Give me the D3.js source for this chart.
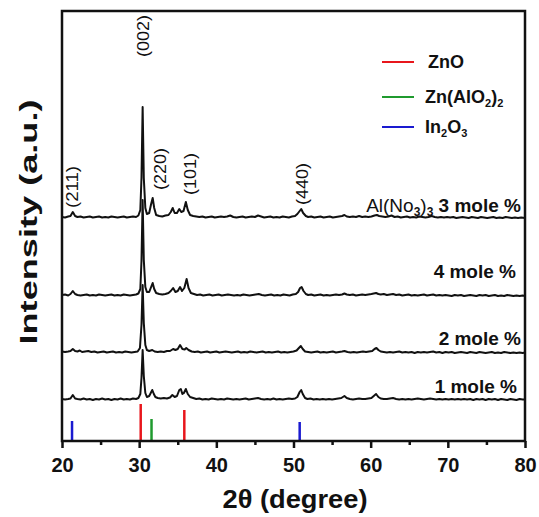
<!DOCTYPE html>
<html><head><meta charset="utf-8">
<script src="https://cdn.jsdelivr.net/npm/d3@7"></script>
<style>body{margin:0;background:#fff} svg{display:block} text{font-family:"Liberation Sans",Arial,sans-serif}</style>
</head><body><svg id="c" width="539" height="517"></svg>
<script>
// ---------- DATA ----------
const categories = ["1 mole %", "2 mole %", "4 mole %", "3 mole %"];
const offsets = [41, 88, 145, 223]; // vertical stacking offset (a.u.)

const series1 = [[20,1],[20.4,0.5],[20.8,1],[21.1,1.5],[21.4,5],[21.7,1.5],[22.0,1],[22.4,0.5],[22.8,1.5],[23.2,0.5],[23.6,1],[24.0,0],[24.4,1],[24.8,0.5],[25.2,1.5],[25.6,0.5],[26.0,1],[26.4,0],[26.8,1],[27.2,0.5],[27.6,1.5],[28.0,0.5],[28.4,1],[28.8,0.5],[29.2,1.5],[29.6,1],[29.9,2],[30.15,6],[30.3,22],[30.45,50],[30.6,24],[30.8,7],[31.0,3],[31.3,4],[31.5,7],[31.7,10],[31.9,6],[32.1,3],[32.4,2],[32.8,1.5],[33.2,2],[33.6,1.5],[34.0,2.5],[34.3,5],[34.6,3],[34.9,4],[35.2,10],[35.4,11],[35.6,6],[35.8,7],[36.05,11],[36.3,6],[36.6,3],[37.0,2],[37.4,1],[37.8,1.5],[38.2,0.5],[38.6,1],[39.0,0.5],[39.4,1.5],[39.8,1],[40.2,0.5],[40.6,1],[41.0,0.5],[41.4,1.5],[41.8,1],[42.2,0.5],[42.6,1],[43.0,0.5],[43.4,1],[43.8,1.5],[44.2,0.5],[44.6,1],[45.0,1.5],[45.4,2],[45.8,1],[46.2,0.5],[46.6,1],[47.0,0.5],[47.4,1.5],[47.8,0.5],[48.2,1],[48.6,0.5],[49.0,1],[49.4,1.5],[49.8,1],[50.2,1.5],[50.5,3],[50.8,8],[51.0,10],[51.2,6],[51.5,2],[51.8,1],[52.2,1.5],[52.6,0.5],[53.0,1],[53.4,0.5],[53.8,1],[54.2,0.5],[54.6,1],[55.0,0.5],[55.4,1],[55.8,1.5],[56.2,2],[56.6,4],[56.9,2],[57.3,1],[57.7,0.5],[58.1,1],[58.5,1.5],[58.9,1],[59.3,1],[59.7,1.5],[60.1,2],[60.4,4],[60.7,6],[61.0,3],[61.3,1.5],[61.7,1],[62.1,1],[62.5,1.5],[62.9,2],[63.3,1],[63.7,0.5],[64.1,1],[64.5,0.5],[64.9,1],[65.3,0.5],[65.7,1],[66.1,1.5],[66.5,1],[66.9,0.5],[67.3,1],[67.7,1.5],[68.1,1],[68.5,0.5],[68.9,1],[69.3,0.5],[69.7,1],[70.1,0.5],[70.5,1],[70.9,0.5],[71.3,1],[71.7,0.5],[72.1,1],[72.5,0.5],[72.9,1],[73.3,0],[73.7,1],[74.1,0.5],[74.5,1],[74.9,0],[75.3,1],[75.7,0.5],[76.1,1],[76.5,0],[76.9,1],[77.3,0.5],[77.7,0],[78.1,1],[78.5,0.5],[78.9,0],[79.3,1],[79.7,0.5],[80,0.5]];

const series2 = [[20,1.5],[20.4,1],[20.8,1.5],[21.1,2],[21.4,4],[21.7,2],[22.0,1.5],[22.3,2.5],[22.6,1],[23.0,1.5],[23.4,2],[23.8,1],[24.2,1.5],[24.6,0.5],[25.0,1],[25.4,1.5],[25.8,0.5],[26.2,1],[26.6,1.5],[27.0,0.5],[27.4,1],[27.8,0.5],[28.2,1.5],[28.6,1],[29.0,0.5],[29.4,1],[29.8,1.5],[30.1,5],[30.3,28],[30.45,68],[30.6,30],[30.8,8],[31.0,3],[31.3,2],[31.7,3],[32.0,1.5],[32.4,1],[32.8,1.5],[33.2,1],[33.6,2],[34.0,2],[34.4,4],[34.7,3],[35.0,4],[35.3,8],[35.6,4],[35.9,3.5],[36.1,5],[36.4,3],[36.8,1.5],[37.2,1],[37.6,1.5],[38.0,0.5],[38.4,1],[38.8,1.5],[39.2,0.5],[39.6,1],[40.0,1.5],[40.4,0.5],[40.8,1],[41.2,1.5],[41.6,1],[42.0,0.5],[42.4,1],[42.8,1.5],[43.2,0.5],[43.6,1],[44.0,0.5],[44.4,1.5],[44.8,1],[45.2,0.5],[45.6,1],[46.0,1.5],[46.4,0.5],[46.8,1],[47.2,0.5],[47.6,1],[48.0,1.5],[48.4,0.5],[48.8,1],[49.2,0.5],[49.6,1],[50.0,1.5],[50.4,2.5],[50.7,5],[50.95,7],[51.2,4],[51.5,1.5],[51.9,1],[52.3,0.5],[52.7,1],[53.1,1.5],[53.5,0.5],[53.9,1],[54.3,0.5],[54.7,1],[55.1,1.5],[55.5,0.5],[55.9,1],[56.3,1.5],[56.6,2],[57.0,1],[57.4,0.5],[57.8,1],[58.2,0.5],[58.6,1],[59.0,1.5],[59.4,1],[59.8,1.5],[60.2,2],[60.5,4],[60.75,5],[61.0,3],[61.3,1.5],[61.7,1],[62.1,0.5],[62.5,1],[62.9,0.5],[63.3,1],[63.7,1.5],[64.1,0.5],[64.5,1],[64.9,0.5],[65.3,1],[65.7,0],[66.1,1],[66.5,0.5],[66.9,1],[67.3,0.5],[67.7,1],[68.1,1.5],[68.5,0.5],[68.9,1],[69.3,0],[69.7,1],[70.1,0.5],[70.5,1],[70.9,0],[71.3,0.5],[71.7,1],[72.1,0.5],[72.5,0],[72.9,1],[73.3,0.5],[73.7,0],[74.1,1],[74.5,0.5],[74.9,0],[75.3,0.5],[75.7,1],[76.1,0],[76.5,0.5],[76.9,0],[77.3,1],[77.7,0.5],[78.1,0],[78.5,0.5],[78.9,0],[79.3,0.5],[79.7,0],[80,0.5]];

const series4 = [[20,1],[20.4,1.5],[20.8,0.5],[21.1,2],[21.4,5],[21.7,2],[22.0,1],[22.4,0.5],[22.8,1],[23.2,1.5],[23.6,0.5],[24.0,1],[24.4,0.5],[24.8,1.5],[25.2,1],[25.6,0.5],[26.0,1],[26.4,1.5],[26.8,0.5],[27.2,1],[27.6,0.5],[28.0,1.5],[28.4,1],[28.8,0.5],[29.2,1],[29.6,1.5],[29.9,2.5],[30.15,7],[30.3,35],[30.45,96],[30.6,36],[30.8,9],[31.0,4],[31.3,4],[31.55,9],[31.75,13],[31.95,7],[32.2,3],[32.6,2],[33.0,1.5],[33.4,2],[33.8,3],[34.1,5],[34.4,8],[34.7,4],[35.0,5],[35.3,9],[35.55,5],[35.85,8],[36.15,17],[36.4,8],[36.7,3],[37.1,2],[37.5,1],[37.9,1.5],[38.3,0.5],[38.7,1],[39.1,1.5],[39.5,0.5],[39.9,1],[40.3,1.5],[40.7,0.5],[41.1,1],[41.5,1.5],[41.9,1],[42.3,0.5],[42.7,1],[43.1,0.5],[43.5,1.5],[43.9,1],[44.3,0.5],[44.7,1],[45.1,1.5],[45.5,2],[45.9,1],[46.3,0.5],[46.7,1],[47.1,1.5],[47.5,0.5],[47.9,1],[48.3,0.5],[48.7,1.5],[49.1,1],[49.5,0.5],[49.9,1.5],[50.3,2],[50.6,4],[50.85,8],[51.05,9],[51.3,5],[51.6,2],[51.9,1],[52.3,1.5],[52.7,0.5],[53.1,1],[53.5,1.5],[53.9,0.5],[54.3,1],[54.7,0.5],[55.1,1],[55.5,1.5],[55.9,1],[56.3,1.5],[56.6,2.5],[56.9,1.5],[57.3,1],[57.7,1.5],[58.1,0.5],[58.5,1],[58.9,1.5],[59.3,1],[59.7,1.5],[60.1,2],[60.4,2.5],[60.7,3],[61.0,2],[61.3,1.5],[61.7,2],[62.1,1],[62.5,1.5],[62.9,2],[63.3,1],[63.7,1.5],[64.1,0.5],[64.5,1],[64.9,1.5],[65.3,0.5],[65.7,1],[66.1,0.5],[66.5,1],[66.9,1.5],[67.3,0.5],[67.7,1],[68.1,1.5],[68.5,0.5],[68.9,1],[69.3,0.5],[69.7,1],[70.1,0.5],[70.5,0],[70.9,1],[71.3,0.5],[71.7,1],[72.1,0],[72.5,0.5],[72.9,1],[73.3,0.5],[73.7,0],[74.1,1],[74.5,0.5],[74.9,1],[75.3,0],[75.7,0.5],[76.1,1],[76.5,0],[76.9,0.5],[77.3,0],[77.7,1],[78.1,0.5],[78.5,0],[78.9,0.5],[79.3,0],[79.7,0.5],[80,0]];

const series3 = [[20,1],[20.4,0.5],[20.8,1.5],[21.1,2],[21.4,6],[21.7,2],[22.0,1],[22.4,1.5],[22.8,0.5],[23.2,1],[23.6,1.5],[24.0,0.5],[24.4,1],[24.8,1.5],[25.2,0.5],[25.6,1],[26.0,0.5],[26.4,1.5],[26.8,1],[27.2,0.5],[27.6,1],[28.0,1.5],[28.4,0.5],[28.8,1],[29.2,1.5],[29.6,1],[29.9,2.5],[30.15,8],[30.3,40],[30.45,111],[30.6,40],[30.8,10],[31.0,4],[31.3,5],[31.55,14],[31.75,20],[31.95,10],[32.2,3],[32.6,2],[33.0,1.5],[33.4,2.5],[33.8,3],[34.1,6],[34.35,10],[34.6,5],[34.9,5],[35.2,9],[35.45,6],[35.75,7],[36.05,16],[36.3,8],[36.6,3],[37.0,2],[37.4,1.5],[37.8,1],[38.2,1.5],[38.6,0.5],[39.0,1],[39.4,1.5],[39.8,0.5],[40.2,1],[40.6,1.5],[41.0,1],[41.4,1.5],[41.8,2.5],[42.2,1],[42.6,0.5],[43.0,1],[43.4,1.5],[43.8,0.5],[44.2,1],[44.6,1.5],[45.0,1],[45.4,2.5],[45.8,1.5],[46.2,0.5],[46.6,1],[47.0,1.5],[47.4,0.5],[47.8,1],[48.2,0.5],[48.6,1.5],[49.0,1],[49.4,0.5],[49.8,1.5],[50.2,2],[50.5,4],[50.8,7],[51.0,9],[51.25,5],[51.6,2],[51.9,1],[52.3,1.5],[52.7,0.5],[53.1,1],[53.5,1.5],[53.9,0.5],[54.3,1],[54.7,1.5],[55.1,0.5],[55.5,1],[55.9,1.5],[56.3,2],[56.6,3],[56.9,1.5],[57.3,1],[57.7,1.5],[58.1,1],[58.5,2],[58.9,1],[59.3,1.5],[59.7,1],[60.1,1.5],[60.5,2.5],[60.8,3],[61.1,2],[61.5,1.5],[61.9,1],[62.3,1.5],[62.7,2.5],[63.1,1],[63.5,1.5],[63.9,0.5],[64.3,1],[64.7,1.5],[65.1,0.5],[65.5,1],[65.9,0.5],[66.3,1.5],[66.7,1],[67.1,0.5],[67.5,1],[67.9,2],[68.3,1],[68.7,0.5],[69.1,1],[69.5,0.5],[69.9,1],[70.3,0.5],[70.7,1],[71.1,0],[71.5,0.5],[71.9,1],[72.3,0.5],[72.7,0],[73.1,1],[73.5,0.5],[73.9,0],[74.3,1],[74.7,0.5],[75.1,0],[75.5,0.5],[75.9,1],[76.3,0],[76.7,0.5],[77.1,0],[77.5,1],[77.9,0.5],[78.3,0],[78.7,0.5],[79.1,0],[79.5,0.5],[80,0]];

const allSeries = [series1, series2, series4, series3];

// reference stick patterns
const refPhases = ["ZnO", "Zn(AlO2)2", "In2O3"];
const refPos = [21.3, 30.2, 31.6, 35.85, 50.8];
const refHeight = [20, 37, 22, 31, 19];
const refPhaseOf = ["In2O3", "ZnO", "Zn(AlO2)2", "ZnO", "In2O3"];

// peak (hkl) labels
const hklLabels = ["(211)", "(002)", "(220)", "(101)", "(440)"];
const hklPos = [21.3, 30.5, 32.7, 36.6, 51.2];

const xTicks = [20, 30, 40, 50, 60, 70, 80];
const xMinorTicks = [25, 35, 45, 55, 65, 75];

// ---------- LAYOUT / STYLE ----------
const plot = {left: 62, right: 525, top: 11, bottom: 441};
const phaseColor = {"ZnO": "#e8161c", "Zn(AlO2)2": "#1f9a2e", "In2O3": "#1a1ad0"};
const hklBottomY = [208, 57, 190, 195, 205];
const labelPos = [[517, 393], [521, 345], [516, 278], [521, 212]];

const svg = d3.select("#c");
const x = d3.scaleLinear().domain([20, 80]).range([plot.left, plot.right]);
const y = d3.scaleLinear().domain([0, 430]).range([plot.bottom, plot.top]);

// traces
allSeries.forEach((s, i) => {
  const line = d3.line().x(d => x(d[0])).y(d => y(d[1] + offsets[i]));
  svg.append("path").datum(s).attr("d", line)
    .attr("fill", "none").attr("stroke", "#111").attr("stroke-width", 2)
    .attr("stroke-linejoin", "round");
});

// reference sticks
svg.append("g").selectAll("line").data(refPos).join("line")
  .attr("x1", d => x(d)).attr("x2", d => x(d))
  .attr("y1", y(0)).attr("y2", (d, i) => y(refHeight[i]))
  .attr("stroke", (d, i) => phaseColor[refPhaseOf[i]]).attr("stroke-width", 2.5);

// axes
const gx = svg.append("g").attr("transform", `translate(0,${plot.bottom})`)
  .call(d3.axisBottom(x).tickValues(xTicks).tickSize(7).tickSizeOuter(0).tickFormat(d3.format("d")));
gx.select(".domain").remove();
gx.selectAll(".tick line").attr("stroke", "#111").attr("stroke-width", 2.5);
gx.selectAll(".tick text").attr("font-size", 20).attr("font-weight", "bold").attr("fill", "#111").attr("dy", "1.05em");
const gm = svg.append("g").attr("transform", `translate(0,${plot.bottom})`)
  .call(d3.axisBottom(x).tickValues(xMinorTicks).tickSize(4).tickFormat(""));
gm.select(".domain").remove();
gm.selectAll(".tick line").attr("stroke", "#111").attr("stroke-width", 2.5);

// frame
svg.append("rect").attr("x", plot.left).attr("y", plot.top)
  .attr("width", plot.right - plot.left).attr("height", plot.bottom - plot.top)
  .attr("fill", "none").attr("stroke", "#111").attr("stroke-width", 2.5);

// axis titles
svg.append("text").attr("x", 295).attr("y", 508)
  .attr("text-anchor", "middle").attr("font-size", 26).attr("font-weight", "bold").attr("fill", "#111")
  .attr("textLength", 145).attr("lengthAdjust", "spacingAndGlyphs")
  .text("2θ (degree)");
svg.append("text").attr("transform", "translate(37,222) rotate(-90)")
  .attr("text-anchor", "middle").attr("font-size", 24).attr("font-weight", "bold").attr("fill", "#111")
  .attr("textLength", 245).attr("lengthAdjust", "spacingAndGlyphs")
  .text("Intensity (a.u.)");

// hkl labels
svg.append("g").selectAll("text").data(hklLabels).join("text")
  .attr("transform", (d, i) => `translate(${x(hklPos[i])},${hklBottomY[i]}) rotate(-90)`)
  .attr("dy", "0.35em").attr("font-size", 16).attr("fill", "#111")
  .attr("textLength", 42).attr("lengthAdjust", "spacingAndGlyphs").text(d => d);

// series labels
categories.forEach((c, i) => {
  const t = svg.append("text").attr("x", labelPos[i][0]).attr("y", labelPos[i][1])
    .attr("text-anchor", "end").attr("font-size", 19).attr("font-weight", "bold").attr("fill", "#111");
  if (i === 3) {
    t.append("tspan").attr("font-size", 19).attr("font-weight", "normal").text("Al(No");
    t.append("tspan").attr("font-size", 12).attr("dy", 4).text("3");
    t.append("tspan").attr("font-size", 19).attr("font-weight", "normal").attr("dy", -4).text(")");
    t.append("tspan").attr("font-size", 12).attr("dy", 4).text("3");
    t.append("tspan").attr("dy", -4).text(" " + c);
  } else {
    t.text(c);
  }
});

// legend
const legX = 382, legLen = 32, legY = [62, 97, 127];
refPhases.forEach((p, i) => {
  svg.append("line").attr("x1", legX).attr("x2", legX + legLen)
    .attr("y1", legY[i]).attr("y2", legY[i])
    .attr("stroke", phaseColor[p]).attr("stroke-width", 2);
  const t = svg.append("text").attr("x", legX + 43).attr("y", legY[i] + 6)
    .attr("font-size", 18).attr("font-weight", "bold").attr("fill", "#111");
  if (p === "ZnO") {
    t.attr("x", legX + 46).text("ZnO");
  } else if (p === "Zn(AlO2)2") {
    t.append("tspan").text("Zn(AlO");
    t.append("tspan").attr("font-size", 11).attr("dy", 4).text("2");
    t.append("tspan").attr("dy", -4).text(")");
    t.append("tspan").attr("font-size", 11).attr("dy", 4).text("2");
  } else {
    t.append("tspan").text("In");
    t.append("tspan").attr("font-size", 11).attr("dy", 4).text("2");
    t.append("tspan").attr("dy", -4).text("O");
    t.append("tspan").attr("font-size", 11).attr("dy", 4).text("3");
  }
});
</script></body></html>
